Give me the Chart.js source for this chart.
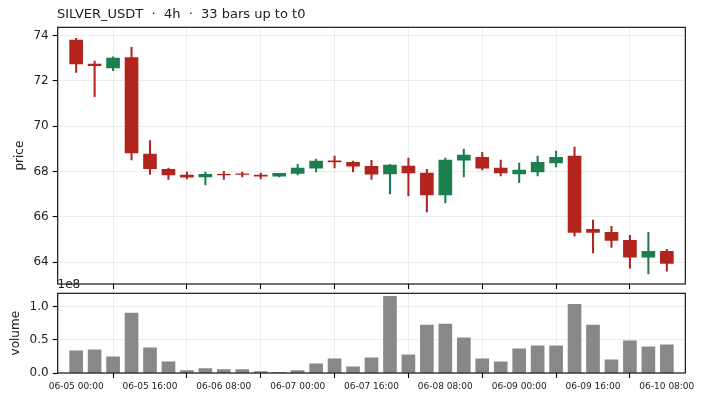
<!DOCTYPE html>
<html><head><meta charset="utf-8">
<script src="https://cdn.jsdelivr.net/npm/chart.js@4.4.1/dist/chart.umd.min.js"></script>
<style>
html,body{margin:0;padding:0;background:#fff;width:703px;height:400px;overflow:hidden}
#c1{position:absolute;left:0;top:0}
#c2{position:absolute;left:0;top:276px}
</style></head><body>
<canvas id="c1" width="703" height="292" style="width:703px;height:292px"></canvas>
<canvas id="c2" width="703" height="124" style="width:703px;height:124px"></canvas>
<script>
const chartTitle = 'SILVER_USDT  \u00b7  4h  \u00b7  33 bars up to t0';
const timeLabels = [
 '06-05 00:00','06-05 04:00','06-05 08:00','06-05 12:00','06-05 16:00','06-05 20:00',
 '06-06 00:00','06-06 04:00','06-06 08:00','06-06 12:00','06-06 16:00','06-06 20:00',
 '06-07 00:00','06-07 04:00','06-07 08:00','06-07 12:00','06-07 16:00','06-07 20:00',
 '06-08 00:00','06-08 04:00','06-08 08:00','06-08 12:00','06-08 16:00','06-08 20:00',
 '06-09 00:00','06-09 04:00','06-09 08:00','06-09 12:00','06-09 16:00','06-09 20:00',
 '06-10 00:00','06-10 04:00','06-10 08:00'];
const openP  = [73.81,72.75,72.58,73.03,68.77,68.10,67.84,67.76,67.88,67.90,67.84,67.79,67.92,68.15,68.47,68.41,68.23,67.89,68.24,67.93,66.96,68.50,68.63,68.15,67.89,67.98,68.38,68.68,65.45,65.31,64.96,64.21,64.47];
const highP  = [73.88,72.88,73.06,73.49,69.37,68.15,67.97,67.97,68.01,67.97,67.93,67.92,68.32,68.55,68.68,68.46,68.49,68.32,68.59,68.10,68.59,68.99,68.85,68.50,68.37,68.68,68.90,69.08,65.85,65.58,65.18,65.31,64.56];
const lowP   = [72.38,71.30,72.45,68.51,67.87,67.65,67.67,67.41,67.65,67.76,67.67,67.76,67.85,67.98,68.16,67.98,67.65,67.01,66.92,66.21,66.61,67.76,68.07,67.81,67.51,67.81,68.20,65.14,64.40,64.65,63.73,63.47,63.60];
const closeP = [72.75,72.67,73.01,68.82,68.12,67.85,67.75,67.88,67.85,67.87,67.79,67.92,68.15,68.46,68.42,68.23,67.88,68.28,67.94,66.96,68.50,68.72,68.15,67.94,68.06,68.41,68.63,65.31,65.31,64.96,64.22,64.47,63.94];
const volumeE8 = [0.335,0.35,0.245,0.905,0.38,0.17,0.035,0.065,0.05,0.05,0.02,0.004,0.035,0.14,0.215,0.095,0.23,1.16,0.275,0.725,0.74,0.53,0.215,0.17,0.365,0.41,0.41,1.04,0.725,0.20,0.485,0.395,0.425];
const xTickIndex = [0,4,8,12,16,20,24,28,32];
const priceTicks = [64,66,68,70,72,74];
const volumeTicks = [0,0.5,1.0];

const UP = '#1b7f4e', DOWN = '#b2251f';
const FONT = '"DejaVu Sans", sans-serif';
const colors = openP.map((o,i)=> closeP[i] >= o ? UP : DOWN);
const GRID = 'rgba(0,0,0,0.07)';

const framePlugin = {
  id:'frame',
  afterDraw(chart, args, opts){
    const {ctx, chartArea:a} = chart;
    ctx.save();
    ctx.strokeStyle = '#000'; ctx.lineWidth = 1.1;
    ctx.strokeRect(a.left, a.top, a.right-a.left, a.bottom-a.top);
    (opts.texts||[]).forEach(t=>{
      ctx.save();
      ctx.fillStyle = t.color || '#222';
      ctx.font = t.font;
      ctx.textAlign = t.align || 'left';
      ctx.textBaseline = 'middle';
      ctx.translate(t.x, t.y);
      if (t.rot) ctx.rotate(-Math.PI/2);
      ctx.fillText(t.text, 0, 0);
      ctx.restore();
    });
    ctx.restore();
  }
};

function noPad(s){ s.paddingTop = 0; s.paddingBottom = 0; s.paddingLeft = 0; s.paddingRight = 0; }

function xScale(showLabels, h){
  return {
    type:'linear', min:-1, max:33, offset:false,
    afterBuildTicks: s => { s.ticks = xTickIndex.map(v=>({value:v})); },
    afterFit: s => { s.height = h; noPad(s); },
    grid:{color:GRID, lineWidth:1, tickColor:'#000', tickWidth:1.1, tickLength:5, drawTicks:true},
    border:{display:false},
    ticks:{display:showLabels, autoSkip:false, maxRotation:0, padding:3, color:'#222',
      font:{family:FONT, size:9}, callback:v=>timeLabels[v]}
  };
}

function yScale(min, max, ticks, fmt){
  return {type:'linear', min:min, max:max,
    afterBuildTicks: s => { s.ticks = ticks.map(v=>({value:v})); },
    afterFit: s => { s.width = 57.7; noPad(s); },
    grid:{color:GRID, tickColor:'#000', tickWidth:1.1, tickLength:5},
    border:{display:false},
    ticks:{padding:4, color:'#222', font:{family:FONT, size:12}, callback:fmt}};
}

new Chart(document.getElementById('c1'), {
  type:'bar',
  data:{datasets:[
    {label:'body', data: openP.map((o,i)=>({x:i, y:[o, closeP[i]]})),
      backgroundColor:colors, borderWidth:0, barThickness:13, grouped:false, order:0},
    {label:'wick', data: lowP.map((l,i)=>({x:i, y:[l, highP[i]]})),
      backgroundColor:colors, borderWidth:0, barThickness:1.4, grouped:false, order:1}
  ]},
  options:{
    responsive:false, animation:false, devicePixelRatio:1,
    layout:{padding:{left:0, right:17.7, top:27.3, bottom:0}},
    plugins:{legend:{display:false}, tooltip:{enabled:false},
      frame:{texts:[
        {text:chartTitle, x:57, y:15, font:'13px '+FONT, color:'#222'},
        {text:'price', x:20, y:155.6, rot:true, align:'center', font:'12px '+FONT}
      ]}},
    scales:{
      x: xScale(false, 8),
      y: yScale(63.03, 74.37, priceTicks, v=>String(v))
    }
  },
  plugins:[framePlugin]
});

new Chart(document.getElementById('c2'), {
  type:'bar',
  data:{datasets:[
    {label:'volume', data: volumeE8.map((v,i)=>({x:i, y:v})),
      backgroundColor:'#888888', borderWidth:0, barThickness:13, grouped:false}
  ]},
  options:{
    responsive:false, animation:false, devicePixelRatio:1,
    layout:{padding:{left:0, right:17.7, top:17.3, bottom:0}},
    plugins:{legend:{display:false}, tooltip:{enabled:false},
      frame:{texts:[
        {text:'1e8', x:57.5, y:9, font:'12px '+FONT},
        {text:'volume', x:16, y:57.2, rot:true, align:'center', font:'12px '+FONT}
      ]}},
    scales:{
      x: xScale(true, 27),
      y: yScale(0, 1.205, volumeTicks, v=>v.toFixed(1))
    }
  },
  plugins:[framePlugin]
});
</script>
</body></html>
